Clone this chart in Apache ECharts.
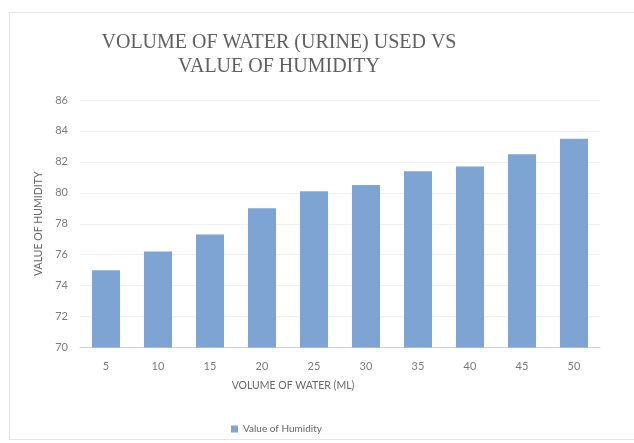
<!DOCTYPE html>
<html>
<head>
<meta charset="utf-8">
<script src="https://cdn.jsdelivr.net/npm/echarts@6/dist/echarts.min.js"></script>
<style>
html,body{margin:0;padding:0;background:#fff;}
#frame{position:absolute;left:9px;top:12px;width:640px;height:428px;border:1px solid #e6e6e6;box-sizing:border-box;}
#chart{position:absolute;left:0;top:0;width:634px;height:443px;}
</style>
</head>
<body>
<div id="frame"></div>
<div id="chart"></div>
<script>
const categories = ['5','10','15','20','25','30','35','40','45','50'];
const humidity = [75.0, 76.2, 77.3, 79.0, 80.1, 80.5, 81.4, 81.7, 82.5, 83.5];
const yMin = 70, yMax = 86, yStep = 2;
const titleText = 'VOLUME OF WATER (URINE) USED VS\nVALUE OF HUMIDITY';
const xName = 'VOLUME OF WATER (ML)';
const yName = 'VALUE OF HUMIDITY';
const seriesName = 'Value of Humidity';

const chart = echarts.init(document.getElementById('chart'), null, {renderer:'canvas'});
chart.setOption({
  backgroundColor: 'transparent',
  animation: false,
  title: {
    text: titleText,
    left: 274, top: 26, textAlign: 'center',
    textStyle: {fontFamily: 'Liberation Serif', fontWeight: 'normal', fontSize: 20, color: '#5f5f5f', lineHeight: 24}
  },
  legend: {
    data: [seriesName], left: 226, top: 419, itemWidth: 7, itemHeight: 7, itemGap: 4,
    icon: 'rect',
    textStyle: {fontFamily: 'Lato', fontSize: 10, color: '#666'}
  },
  grid: {left: 80, right: 34, top: 100, bottom: 95.5},
  xAxis: {
    type: 'category', data: categories,
    name: xName, nameLocation: 'middle', nameGap: 33,
    nameTextStyle: {fontFamily: 'Lato', fontSize: 10.5, color: '#666', padding: [0, 94, 0, 0]},
    axisLine: {lineStyle: {color: '#cfcfcf'}},
    axisTick: {show: false},
    axisLabel: {fontFamily: 'Lato', fontSize: 11, color: '#7a7a7a', margin: 13}
  },
  yAxis: {
    type: 'value', min: yMin, max: yMax, interval: yStep,
    name: yName, nameLocation: 'middle', nameGap: 35,
    nameTextStyle: {fontFamily: 'Lato', fontSize: 10.5, color: '#666'},
    axisLine: {show: false}, axisTick: {show: false},
    axisLabel: {fontFamily: 'Lato', fontSize: 11, color: '#7a7a7a', margin: 12},
    splitLine: {lineStyle: {color: '#f0f0f0'}}
  },
  series: [{
    name: seriesName, type: 'bar', data: humidity,
    barCategoryGap: '46%',
    itemStyle: {color: '#7ea4d3'}
  }]
});
</script>
</body>
</html>
